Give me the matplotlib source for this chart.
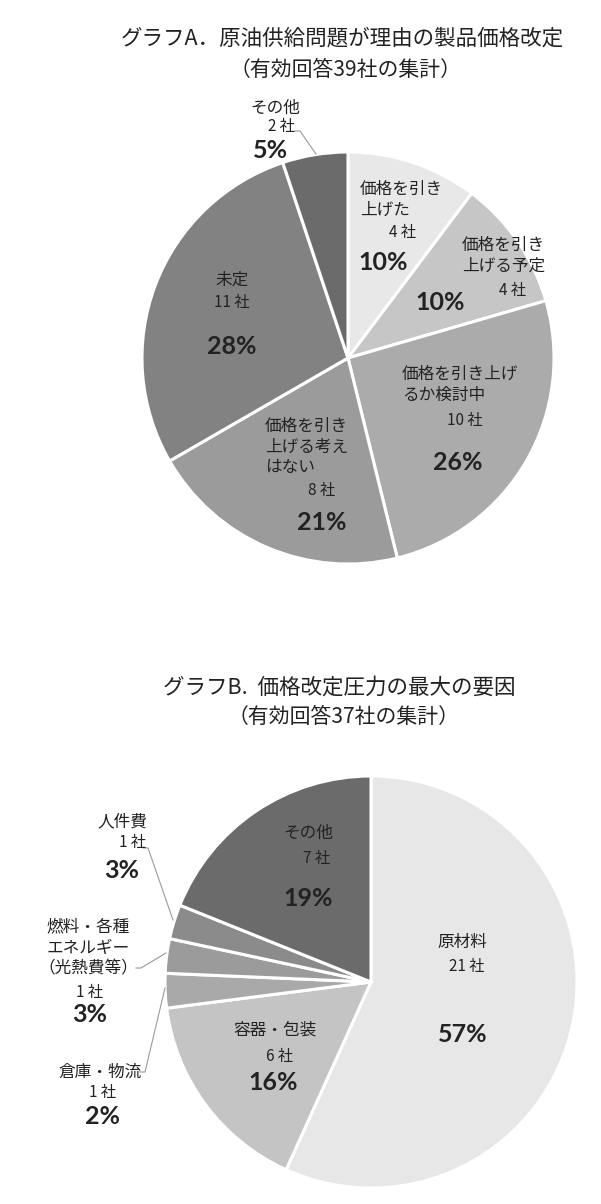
import matplotlib
matplotlib.use("Agg")
import matplotlib.pyplot as plt

plt.rcParams['font.family'] = ['Noto Sans CJK JP', 'DejaVu Sans']

W, H = 601, 1204

# --- data: graph A ---
a_title = "グラフA．原油供給問題が理由の製品価格改定"
a_sub = "（有効回答39社の集計）"
a_labels = ["価格を引き\n上げた", "価格を引き\n上げる予定", "価格を引き上げ\nるか検討中",
            "価格を引き\n上げる考え\nはない", "未定", "その他"]
a_counts = [4, 4, 10, 8, 11, 2]
a_pcts = ["10%", "10%", "26%", "21%", "28%", "5%"]
a_colors = ["#e8e8e8", "#c6c6c6", "#ababab", "#9b9b9b", "#828282", "#6b6b6b"]

# --- data: graph B ---
b_title = "グラフB.  価格改定圧力の最大の要因"
b_sub = "（有効回答37社の集計）"
b_labels = ["原材料", "容器・包装", "倉庫・物流", "燃料・各種\nエネルギー\n（光熱費等）", "人件費", "その他"]
b_counts = [21, 6, 1, 1, 1, 7]
b_pcts = ["57%", "16%", "2%", "3%", "3%", "19%"]
b_colors = ["#e7e7e7", "#c4c4c4", "#a9a9a9", "#9b9b9b", "#8b8b8b", "#6b6b6b"]

DARK = "#222222"


def py(y):
    # image pixel row -> axes y
    return H - y


fig = plt.figure(figsize=(6.01, 12.04), dpi=100)
ax = fig.add_axes([0, 0, 1, 1])

wp = dict(edgecolor='white', linewidth=2.2)
ax.pie(a_counts, colors=a_colors, startangle=90, counterclock=False,
       center=(348, py(358)), radius=206, wedgeprops=wp)
ax.pie(b_counts, colors=b_colors, startangle=90, counterclock=False,
       center=(371, py(982)), radius=206, wedgeprops=wp)

ax.set_xlim(0, W)
ax.set_ylim(0, H)
ax.set_aspect('equal')
ax.axis('off')

# titles
ax.text(342, py(38), a_title, ha='center', va='center', fontsize=15.5, color=DARK)
ax.text(346, py(70), a_sub, ha='center', va='center', fontsize=15, color=DARK)
ax.text(339, py(688), b_title, ha='center', va='center', fontsize=15.5, color=DARK)
ax.text(344, py(717), b_sub, ha='center', va='center', fontsize=15, color=DARK)

# label layout: (label x, label y, ha, count x, count y, pct x, pct y)
a_pos = [
    (360, 200, 'left', 403, 232, 383, 262),
    (462, 256, 'left', 513, 290, 440, 303),
    (402, 385, 'left', 465, 420, 458, 462),
    (265, 447, 'left', 322, 490, 322, 523),
    (232, 280, 'center', 232, 302, 232, 347),
    (275, 108, 'center', 282, 127, 270, 150),
]
b_pos = [
    (462, 942, 'center', 467, 967, 463, 1035),
    (275, 1030, 'center', 280, 1057, 273, 1083),
    (100, 1072, 'center', 103, 1093, 103, 1117),
    (88, 948, 'center', 90, 992, 90, 1015),
    (122, 822, 'center', 133, 843, 122, 870),
    (308, 833, 'center', 317, 858, 308, 898),
]


def put_labels(labels, counts, pcts, pos):
    for lab, n, pc, (lx, ly, ha, cx, cy, px, ppy) in zip(labels, counts, pcts, pos):
        ax.text(lx, py(ly), lab, ha=ha, va='center', fontsize=12,
                color=DARK, linespacing=1.3, multialignment='left' if ha == 'left' else 'center')
        ax.text(cx, py(cy), f"{n} 社", ha='center', va='center', fontsize=11, color=DARK)
        ax.text(px, py(ppy), pc, ha='center', va='center', fontsize=18,
                fontweight='bold', color=DARK, family='Lato')


put_labels(a_labels, a_counts, a_pcts, a_pos)
put_labels(b_labels, b_counts, b_pcts, b_pos)

# leader lines
LC = "#9a9a9a"
leaders = [
    [(295, 131), (300, 131), (316, 154)],
    [(143, 848), (148, 848), (173, 920)],
    [(136, 968), (141, 968), (166, 953)],
    [(140, 1072), (145, 1072), (165, 988)],
]
for pts in leaders:
    ax.plot([p[0] for p in pts], [py(p[1]) for p in pts], color=LC, lw=0.8)

fig.savefig("out.png", dpi=100, facecolor='white')
